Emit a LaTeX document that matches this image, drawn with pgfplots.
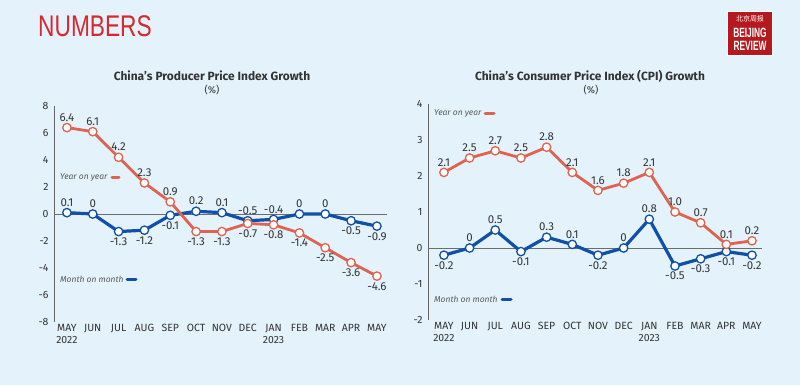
\documentclass[border=0pt]{standalone}
\usepackage{pgfplots}
\pgfplotsset{compat=1.18}
\usepackage{fontspec}
\setmainfont{Fira Sans}
\newfontfamily\numfont{Liberation Sans}
\newfontfamily\cjk{Noto Sans CJK SC}
\definecolor{bg}{HTML}{E4F3FB}
\definecolor{yoy}{HTML}{DE6350}
\definecolor{mom}{HTML}{1050A6}
\definecolor{txt}{HTML}{333333}
\definecolor{brand}{HTML}{D7282F}
\definecolor{logo}{HTML}{B5191E}
\pgfplotsset{
  base/.style={
    scale only axis, clip=false,
    axis lines*=left,
    x axis line style={draw=none},
    y axis line style={draw=gray!80!black, line width=0.8bp},
    major tick length=0pt,
    tick label style={font=\fontsize{10.5}{12}\selectfont, text=txt},
    /pgf/number format/assume math mode=true,
    xtick={0,...,12},
    xticklabels={{MAY\\2022},JUN,JUL,AUG,SEP,OCT,NOV,DEC,{JAN\\2023},FEB,MAR,APR,MAY},
    xticklabel style={align=center, inner sep=1bp, yshift=-1bp},
    yticklabel style={xshift=-2bp},
    extra y ticks={0}, extra y tick labels={},
    extra y tick style={grid=major, major grid style={draw=gray!85!black, line width=0.8bp}},
    every node near coord/.append style={font=\fontsize{11.5}{12}\selectfont, text=txt, inner sep=1.5bp},
  },
  yline/.style={color=yoy, line width=2.8bp, mark=*, mark size=4.2bp, mark options={fill=white, draw=yoy, line width=1.3bp}},
  mline/.style={color=mom, line width=3.2bp, mark=*, mark size=4.2bp, mark options={fill=white, draw=mom, line width=1.3bp}},
  labA/.style={draw=none, mark=none, nodes near coords, point meta=explicit symbolic, nodes near coords align={above}, every node near coord/.append style={yshift=4.5bp}},
  labB/.style={draw=none, mark=none, nodes near coords, point meta=explicit symbolic, nodes near coords align={below}, every node near coord/.append style={yshift=-4.5bp}},
}
\begin{document}
\begin{tikzpicture}[x=1bp,y=1bp]
\fill[bg] (0,0) rectangle (800,385);
% header
\node[anchor=west, inner sep=0, text=brand] at (38,359) {\scalebox{0.76}[1]{\numfont\fontsize{30}{30}\selectfont NUMBERS}};
\fill[white] (727,329) rectangle (773,374);
\fill[logo] (728,330) rectangle (772,373);
\node[text=white, inner sep=0] at (750,366) {\cjk\fontsize{7}{7}\selectfont 北京周报};
\node[text=white, inner sep=0] at (750,352) {\scalebox{0.62}[1]{\numfont\bfseries\fontsize{13.5}{13.5}\selectfont BEIJING}};
\node[text=white, inner sep=0] at (750,339) {\scalebox{0.62}[1]{\numfont\bfseries\fontsize{13.5}{13.5}\selectfont REVIEW}};
% titles
\node[font=\bfseries\fontsize{12}{13}\selectfont, text=txt] at (212,309) {China’s Producer Price Index Growth};
\node[font=\fontsize{10}{11}\selectfont, text=txt] at (212,295) {(\%)};
\node[font=\bfseries\fontsize{12}{13}\selectfont, text=txt] at (590,309) {China’s Consumer Price Index (CPI) Growth};
\node[font=\fontsize{10}{11}\selectfont, text=txt] at (591,295) {(\%)};

% ---------- PPI ----------
\begin{axis}[base, at={(54bp,63bp)}, anchor=south west, width=333bp, height=216bp,
  xmin=-0.5, xmax=12.39, ymin=-8, ymax=8, ytick={-8,-6,...,8}]
\addplot[mline] coordinates {(0,0.1)(1,0)(2,-1.3)(3,-1.2)(4,-0.1)(5,0.2)(6,0.1)(7,-0.5)(8,-0.4)(9,0)(10,0)(11,-0.5)(12,-0.9)};
\addplot[yline] coordinates {(0,6.4)(1,6.1)(2,4.2)(3,2.3)(4,0.9)(5,-1.3)(6,-1.3)(7,-0.7)(8,-0.8)(9,-1.4)(10,-2.5)(11,-3.6)(12,-4.6)};
\addplot[labA] coordinates {(0,0.1)[0.1](1,0)[0](5,0.2)[0.2](6,0.1)[0.1](7,-0.5)[-0.5](8,-0.4)[-0.4](9,0)[0](10,0)[0]};
\addplot[labB] coordinates {(2,-1.3)[-1.3](3,-1.2)[-1.2](4,-0.1)[-0.1](11,-0.5)[-0.5](12,-0.9)[-0.9]};
\addplot[labA] coordinates {(0,6.4)[6.4](1,6.1)[6.1](2,4.2)[4.2](3,2.3)[2.3](4,0.9)[0.9]};
\addplot[labB] coordinates {(5,-1.3)[-1.3](6,-1.3)[-1.3](7,-0.7)[-0.7](8,-0.8)[-0.8](9,-1.4)[-1.4](10,-2.5)[-2.5](11,-3.6)[-3.6](12,-4.6)[-4.6]};
\end{axis}

% ---------- CPI ----------
\begin{axis}[base, at={(428bp,65bp)}, anchor=south west, width=334bp, height=216bp,
  xmin=-0.62, xmax=12.39, ymin=-2, ymax=4, ytick={-2,-1,...,4}]
\addplot[mline] coordinates {(0,-0.2)(1,0)(2,0.5)(3,-0.1)(4,0.3)(5,0.1)(6,-0.2)(7,0)(8,0.8)(9,-0.5)(10,-0.3)(11,-0.1)(12,-0.2)};
\addplot[yline] coordinates {(0,2.1)(1,2.5)(2,2.7)(3,2.5)(4,2.8)(5,2.1)(6,1.6)(7,1.8)(8,2.1)(9,1.0)(10,0.7)(11,0.1)(12,0.2)};
\addplot[labA] coordinates {(1,0)[0](2,0.5)[0.5](4,0.3)[0.3](5,0.1)[0.1](7,0)[0](8,0.8)[0.8]};
\addplot[labB] coordinates {(0,-0.2)[-0.2](3,-0.1)[-0.1](6,-0.2)[-0.2](9,-0.5)[-0.5](10,-0.3)[-0.3](11,-0.1)[-0.1](12,-0.2)[-0.2]};
\addplot[labA] coordinates {(0,2.1)[2.1](1,2.5)[2.5](2,2.7)[2.7](3,2.5)[2.5](4,2.8)[2.8](5,2.1)[2.1](6,1.6)[1.6](7,1.8)[1.8](8,2.1)[2.1](9,1.0)[1.0](10,0.7)[0.7](11,0.1)[0.1](12,0.2)[0.2]};
\end{axis}

% legends
\node[anchor=west, inner sep=0, font=\itshape\fontsize{8.5}{9}\selectfont, text=gray!70!black] at (60,208) {Year on year};
\draw[yoy, line width=3bp, line cap=round] (112,208) -- (119,208);
\node[anchor=west, inner sep=0, font=\itshape\fontsize{8.5}{9}\selectfont, text=gray!70!black] at (60,106) {Month on month};
\draw[mom, line width=3bp, line cap=round] (127,106) -- (136,106);
\node[anchor=west, inner sep=0, font=\itshape\fontsize{8.5}{9}\selectfont, text=gray!70!black] at (434,272) {Year on year};
\draw[yoy, line width=3bp, line cap=round] (485,272) -- (494,272);
\node[anchor=west, inner sep=0, font=\itshape\fontsize{8.5}{9}\selectfont, text=gray!70!black] at (434,86) {Month on month};
\draw[mom, line width=3bp, line cap=round] (502,86) -- (511,86);
\pgfresetboundingbox
\path (0,0) rectangle (800,385);
\end{tikzpicture}
\end{document}
